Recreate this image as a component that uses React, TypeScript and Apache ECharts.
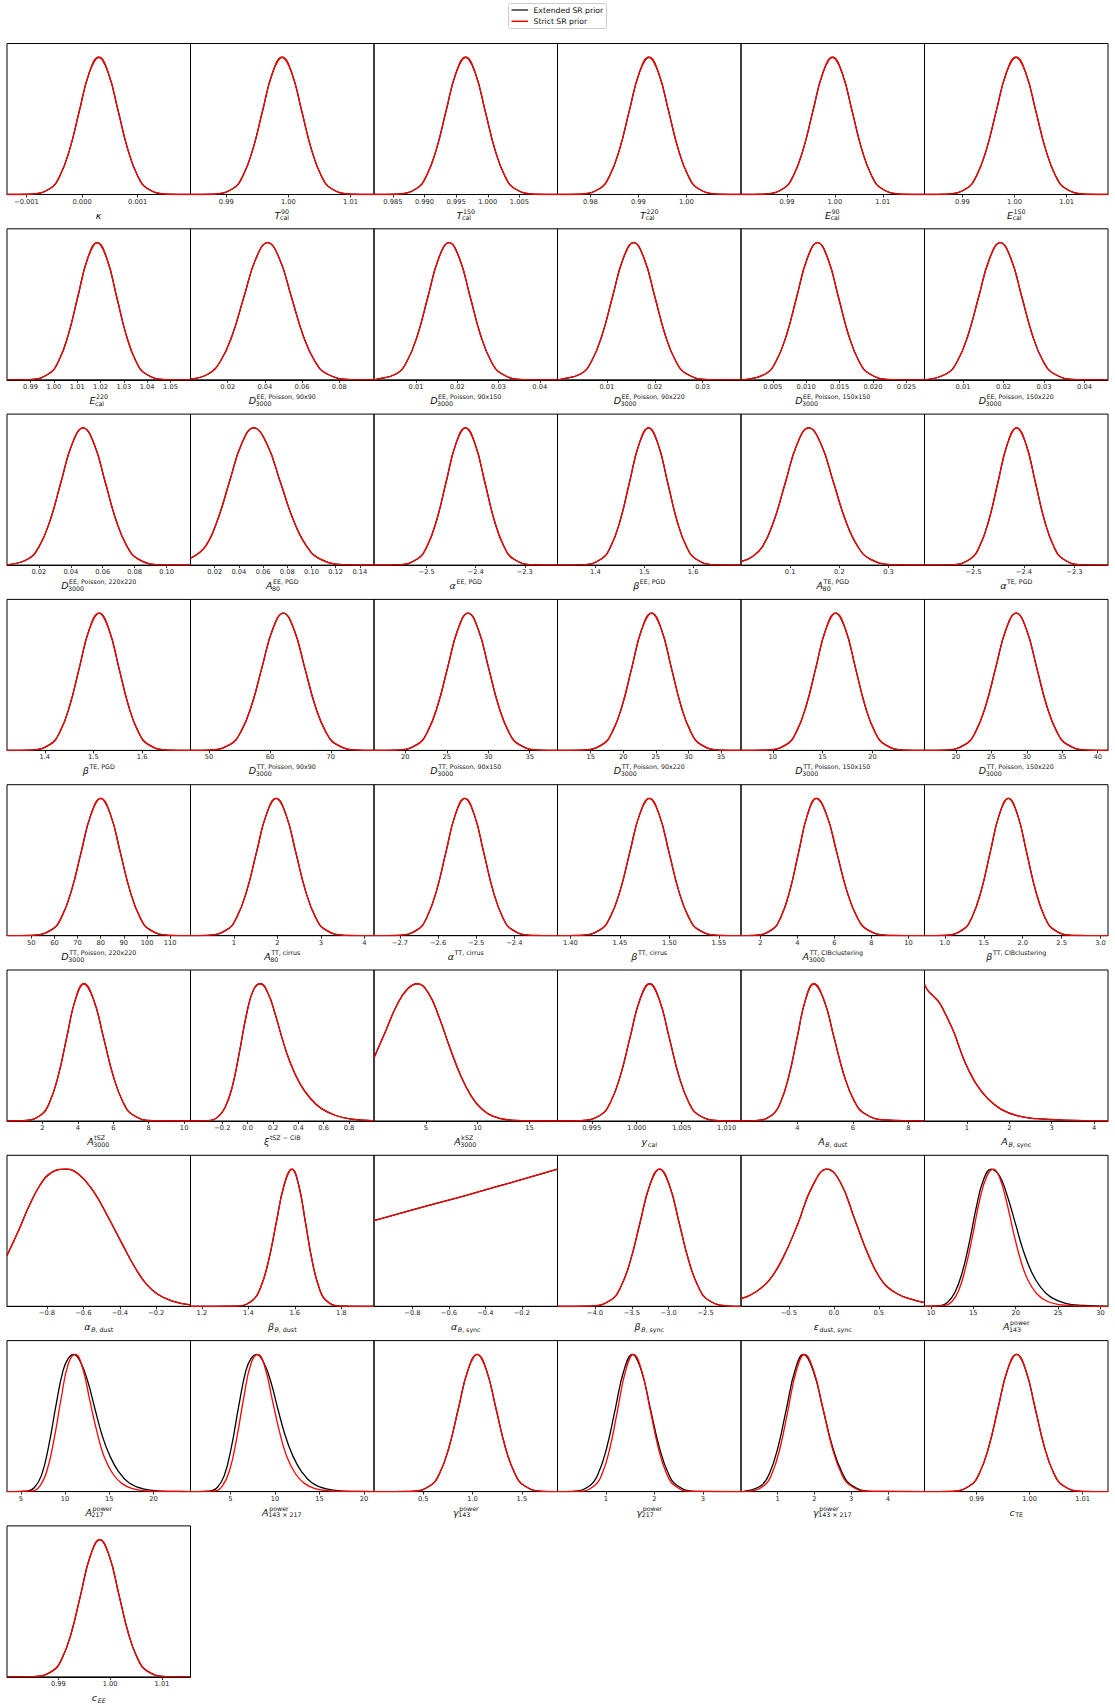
import React, { useEffect, useRef } from "react";
import * as echarts from "echarts";

const FIG_W = 1115;
const FIG_H = 1704;

// ---------- curve values (density normalised to the peak) ----------
// symmetric bell read at -3.5s,-2.5s,-2s,-1.5s,-1s,-0.5s,0,...,+3.5s
const BELL = [0.002, 0.044, 0.135, 0.325, 0.607, 0.882, 1, 0.882, 0.607, 0.325, 0.135, 0.044, 0.002];

const kappaX = [-0.000925, -0.000575, -0.0004, -0.000225, -0.00005, 0.000125, 0.0003, 0.000475, 0.00065, 0.000825, 0.001, 0.001175, 0.001525];
const t90X = [0.98794, 0.9911, 0.99268, 0.99426, 0.99584, 0.99742, 0.999, 1.00058, 1.00216, 1.00374, 1.00532, 1.0069, 1.01006];
const t150X = [0.98565, 0.98875, 0.9903, 0.99185, 0.9934, 0.99495, 0.9965, 0.99805, 0.9996, 1.00115, 1.0027, 1.00425, 1.00735];
const t220X = [0.97785, 0.98195, 0.984, 0.98605, 0.9881, 0.99015, 0.9922, 0.99425, 0.9963, 0.99835, 1.0004, 1.00245, 1.00655];
const e90X = [0.98515, 0.98925, 0.9913, 0.99335, 0.9954, 0.99745, 0.9995, 1.00155, 1.0036, 1.00565, 1.0077, 1.00975, 1.01385];
const e150X = [0.987, 0.9908, 0.9927, 0.9946, 0.9965, 0.9984, 1.0003, 1.0022, 1.0041, 1.006, 1.0079, 1.0098, 1.0136];
const e220X = [0.98955, 0.99785, 1.002, 1.00615, 1.0103, 1.01445, 1.0186, 1.02275, 1.0269, 1.03105, 1.0352, 1.03935, 1.04765];
const dEE90x90X = [0, 0.00975, 0.0161, 0.02245, 0.0288, 0.03515, 0.0415, 0.04785, 0.0542, 0.06055, 0.0669, 0.07325, 0.08595];
const dEE90x90Y = [0.005, 0.044, 0.135, 0.325, 0.607, 0.882, 1, 0.882, 0.607, 0.325, 0.135, 0.044, 0.002];
const dEE90x150X = [0.00015, 0.00525, 0.0078, 0.01035, 0.0129, 0.01545, 0.018, 0.02055, 0.0231, 0.02565, 0.0282, 0.03075, 0.03585];
const dEE90x220X = [0.0002, 0.0046, 0.0068, 0.009, 0.0112, 0.0134, 0.0156, 0.0178, 0.02, 0.0222, 0.0244, 0.0266, 0.031];
const dEE150x150X = [0.00085, 0.00395, 0.0055, 0.00705, 0.0086, 0.01015, 0.0117, 0.01325, 0.0148, 0.01635, 0.0179, 0.01945, 0.02255];
const dEE150x220X = [0.00065, 0.00595, 0.0086, 0.01125, 0.0139, 0.01655, 0.0192, 0.02185, 0.0245, 0.02715, 0.0298, 0.03245, 0.03775];
const dEE220x220X = [0, 0.0132, 0.0201, 0.027, 0.0339, 0.0408, 0.0477, 0.0546, 0.0615, 0.0684, 0.0753, 0.0822, 0.096];
const aEE80X = [0, 0.0122, 0.0222, 0.0322, 0.0422, 0.0522, 0.0632, 0.0742, 0.0852, 0.0962, 0.1072, 0.1292];
const aEE80Y = [0.05, 0.135, 0.325, 0.607, 0.882, 1, 0.882, 0.607, 0.325, 0.135, 0.044, 0.002];
const alphaEEX = [-2.55855, -2.51925, -2.4996, -2.47995, -2.4603, -2.44065, -2.421, -2.40135, -2.3817, -2.36205, -2.3424, -2.32275, -2.28345];
const betaEEX = [1.37335, 1.41205, 1.4314, 1.45075, 1.4701, 1.48945, 1.5088, 1.52815, 1.5475, 1.56685, 1.5862, 1.60555, 1.64425];
const aTE80X = [0, 0.0202, 0.0437, 0.0672, 0.0907, 0.1142, 0.1377, 0.1627, 0.1877, 0.2127, 0.2377, 0.2627, 0.3127];
const aTE80Y = [0.025, 0.055, 0.135, 0.325, 0.607, 0.882, 1, 0.882, 0.607, 0.325, 0.135, 0.044, 0.002];
const alphaTEX = [-2.5433, -2.5065, -2.4881, -2.4697, -2.4513, -2.4329, -2.4145, -2.3961, -2.3777, -2.3593, -2.3409, -2.3225, -2.2857];
const betaTEX = [1.37065, 1.41095, 1.4311, 1.45125, 1.4714, 1.49155, 1.5117, 1.53185, 1.552, 1.57215, 1.5923, 1.61245, 1.65275];
const dTT90x90X = [49.985, 53.475, 55.22, 56.965, 58.71, 60.455, 62.2, 63.945, 65.69, 67.435, 69.18, 70.925, 74.415];
const dTT90x150X = [18.995, 21.445, 22.67, 23.895, 25.12, 26.345, 27.57, 28.795, 30.02, 31.245, 32.47, 33.695, 36.145];
const dTT90x220X = [13.805, 16.815, 18.32, 19.825, 21.33, 22.835, 24.34, 25.845, 27.35, 28.855, 30.36, 31.865, 34.875];
const dTT150x150X = [9.415, 11.385, 12.37, 13.355, 14.34, 15.325, 16.31, 17.295, 18.28, 19.265, 20.25, 21.235, 23.205];
const dTT150x220X = [18.465, 21.335, 22.77, 24.205, 25.64, 27.075, 28.51, 29.945, 31.38, 32.815, 34.25, 35.685, 38.555];
const dTT220x220X = [50.39, 58.85, 63.08, 67.31, 71.54, 75.77, 80, 84.23, 88.46, 92.69, 96.92, 101.15, 109.61];
const aCirrusX = [0.388, 0.84, 1.066, 1.292, 1.518, 1.744, 1.97, 2.196, 2.422, 2.648, 2.874, 3.1, 3.552];
const alphaCirrusX = [-2.7036, -2.654, -2.6292, -2.6044, -2.5796, -2.5548, -2.53, -2.5052, -2.4804, -2.4556, -2.4308, -2.406, -2.3564];
const betaCirrusX = [1.4105, 1.4303, 1.4402, 1.4501, 1.46, 1.4699, 1.4798, 1.4897, 1.4996, 1.5095, 1.5194, 1.5293, 1.5491];
const aCIBX = [1.67, 2.63, 3.11, 3.59, 4.07, 4.55, 5.03, 5.58, 6.13, 6.68, 7.23, 7.78, 8.88];
const betaCIBX = [0.9975, 1.2315, 1.3485, 1.4655, 1.5825, 1.6995, 1.8165, 1.9335, 2.0505, 2.1675, 2.2845, 2.4015, 2.6355];
const aTSZX = [0.945, 1.915, 2.4, 2.885, 3.37, 3.855, 4.34, 4.895, 5.45, 6.005, 6.56, 7.115, 8.225];
const xiX = [-0.375, -0.29, -0.234, -0.177, -0.121, -0.065, -0.008, 0.048, 0.104, 0.161, 0.217, 0.273, 0.33, 0.414, 0.499, 0.583, 0.696, 0.808, 0.977];
const xiY = [0, 0.005, 0.03, 0.1, 0.25, 0.5, 0.78, 0.96, 1.0, 0.93, 0.78, 0.6, 0.44, 0.27, 0.16, 0.09, 0.04, 0.015, 0.003];
const aKSZX = [0, 1.152, 2.18, 3.21, 4.18, 5.27, 6.31, 7.34, 8.37, 9.4, 10.43, 11.46, 12.83, 14.55, 17.71];
const aKSZY = [0.46, 0.66, 0.84, 0.96, 1.0, 0.93, 0.75, 0.53, 0.33, 0.18, 0.085, 0.035, 0.009, 0.002, 0];
const ycalX = [0.9938, 0.99598, 0.99707, 0.99816, 0.99925, 1.00034, 1.00143, 1.00252, 1.00361, 1.0047, 1.00579, 1.00688, 1.00906];
const aBdustX = [2.49, 3.09, 3.39, 3.69, 3.99, 4.29, 4.59, 4.955, 5.32, 5.685, 6.05, 6.415, 7.145];
const aBdustY = [0.002, 0.044, 0.135, 0.325, 0.607, 0.882, 1, 0.882, 0.607, 0.33, 0.145, 0.055, 0.008];
const aBsyncX = [0, 0.082, 0.208, 0.334, 0.461, 0.587, 0.714, 0.84, 0.966, 1.093, 1.219, 1.472, 1.809, 2.23, 2.651, 3.241, 4.328];
const aBsyncY = [0.995, 0.95, 0.91, 0.87, 0.8, 0.72, 0.63, 0.52, 0.42, 0.34, 0.27, 0.17, 0.085, 0.035, 0.017, 0.007, 0.002];
const alphaBdustX = [-1.019, -0.956, -0.898, -0.839, -0.78, -0.696, -0.624, -0.546, -0.468, -0.389, -0.311, -0.253, -0.194, -0.116, -0.012];
const alphaBdustY = [0.37, 0.55, 0.73, 0.88, 0.97, 1.0, 0.96, 0.84, 0.66, 0.46, 0.27, 0.16, 0.09, 0.04, 0.01];
const betaBdustX = [1.3507, 1.41845, 1.4523, 1.48615, 1.52, 1.55385, 1.5877, 1.61695, 1.6462, 1.67545, 1.7047, 1.73395, 1.79245];
const alphaBsyncX = [-1.011, -0.75, -0.5, -0.25, -0.0043];
const alphaBsyncY = [0.625, 0.72, 0.81, 0.905, 1.0];
const betaBsyncX = [-4.055, -3.789, -3.656, -3.523, -3.39, -3.257, -3.124, -2.991, -2.858, -2.725, -2.592, -2.459, -2.193];
const epsX = [-1.032, -0.877, -0.718, -0.56, -0.401, -0.242, -0.0754, 0.0754, 0.234, 0.393, 0.552, 0.71, 0.869, 1.008];
const epsY = [0.054, 0.1, 0.19, 0.36, 0.6, 0.87, 1.0, 0.9, 0.63, 0.36, 0.17, 0.09, 0.05, 0.027];
const a143StrictX = [11.56, 12.4, 13.24, 14.08, 14.93, 15.77, 16.61, 17.37, 18.09, 18.93, 19.77, 20.61, 21.45, 22.51, 23.77, 25.45, 27.98];
const a143StrictY = [0.005, 0.03, 0.11, 0.28, 0.52, 0.78, 0.95, 1.0, 0.94, 0.76, 0.53, 0.33, 0.19, 0.09, 0.035, 0.01, 0.002];
const a143ExtX = [11.14, 11.98, 12.82, 13.66, 14.51, 15.35, 16.19, 17.12, 18.09, 18.93, 19.98, 20.82, 21.87, 22.93, 24.19, 25.88, 27.98, 30.09];
const a143ExtY = [0.005, 0.03, 0.1, 0.24, 0.46, 0.72, 0.92, 1.0, 0.95, 0.82, 0.6, 0.42, 0.25, 0.14, 0.065, 0.022, 0.006, 0.001];
const a217StrictX = [6.33, 7.14, 7.94, 8.75, 9.56, 10.36, 11.17, 11.98, 12.78, 13.59, 14.39, 15.4, 16.41, 17.62, 19.23, 21.25];
const a217StrictY = [0.005, 0.04, 0.15, 0.38, 0.68, 0.93, 1.0, 0.9, 0.67, 0.44, 0.26, 0.13, 0.06, 0.022, 0.006, 0.001];
const a217ExtX = [5.73, 6.53, 7.34, 8.14, 8.95, 9.76, 10.36, 10.97, 11.77, 12.58, 13.39, 14.19, 15.0, 16.01, 17.22, 18.83, 20.85, 22.86];
const a217ExtY = [0.004, 0.03, 0.12, 0.33, 0.62, 0.88, 0.97, 1.0, 0.94, 0.8, 0.6, 0.41, 0.27, 0.15, 0.065, 0.02, 0.004, 0.001];
const a143x217StrictX = [3.28, 4.08, 4.88, 5.68, 6.48, 7.29, 8.09, 8.89, 9.69, 10.49, 11.3, 12.3, 13.3, 14.5, 16.11, 18.11];
const a143x217StrictY = [0.005, 0.04, 0.15, 0.38, 0.68, 0.93, 1.0, 0.9, 0.67, 0.44, 0.26, 0.13, 0.06, 0.022, 0.006, 0.001];
const a143x217ExtX = [2.71, 3.52, 4.32, 5.12, 5.92, 6.72, 7.32, 7.93, 8.73, 9.53, 10.33, 11.14, 11.94, 12.94, 14.14, 15.75, 17.75, 19.76];
const a143x217ExtY = [0.004, 0.03, 0.12, 0.33, 0.62, 0.88, 0.97, 1.0, 0.94, 0.8, 0.6, 0.41, 0.27, 0.15, 0.065, 0.02, 0.004, 0.001];
const g143X = [0.382, 0.572, 0.667, 0.762, 0.857, 0.952, 1.047, 1.142, 1.237, 1.332, 1.427, 1.522, 1.712];
const g217StrictX = [0.448, 0.768, 0.928, 1.088, 1.248, 1.408, 1.568, 1.738, 1.908, 2.078, 2.248, 2.418, 2.758];
const g217ExtX = [0.321, 0.671, 0.846, 1.021, 1.196, 1.371, 1.546, 1.731, 1.916, 2.101, 2.286, 2.471, 2.841];
const g143x217StrictX = [0.19, 0.63, 0.85, 1.07, 1.29, 1.51, 1.73, 1.98, 2.23, 2.48, 2.73, 2.98, 3.48];
const g143x217ExtX = [0.09, 0.55, 0.78, 1.01, 1.24, 1.47, 1.7, 1.965, 2.23, 2.495, 2.76, 3.025, 3.555];
const cTEX = [0.98529, 0.98879, 0.99054, 0.99229, 0.99404, 0.99579, 0.99754, 0.99929, 1.00104, 1.00279, 1.00454, 1.00629, 1.00979];
const cEEX = [0.98526, 0.9889, 0.99072, 0.99254, 0.99436, 0.99618, 0.998, 0.99982, 1.00164, 1.00346, 1.00528, 1.0071, 1.01074];

// ---------- per-panel lists ----------
// "Strict SR prior" curves (red)
const STRICT: number[][][] = [
  [kappaX, BELL], [t90X, BELL], [t150X, BELL], [t220X, BELL], [e90X, BELL], [e150X, BELL],
  [e220X, BELL], [dEE90x90X, dEE90x90Y], [dEE90x150X, BELL], [dEE90x220X, BELL], [dEE150x150X, BELL], [dEE150x220X, BELL],
  [dEE220x220X, BELL], [aEE80X, aEE80Y], [alphaEEX, BELL], [betaEEX, BELL], [aTE80X, aTE80Y], [alphaTEX, BELL],
  [betaTEX, BELL], [dTT90x90X, BELL], [dTT90x150X, BELL], [dTT90x220X, BELL], [dTT150x150X, BELL], [dTT150x220X, BELL],
  [dTT220x220X, BELL], [aCirrusX, BELL], [alphaCirrusX, BELL], [betaCirrusX, BELL], [aCIBX, BELL], [betaCIBX, BELL],
  [aTSZX, BELL], [xiX, xiY], [aKSZX, aKSZY], [ycalX, BELL], [aBdustX, aBdustY], [aBsyncX, aBsyncY],
  [alphaBdustX, alphaBdustY], [betaBdustX, BELL], [alphaBsyncX, alphaBsyncY], [betaBsyncX, BELL], [epsX, epsY], [a143StrictX, a143StrictY],
  [a217StrictX, a217StrictY], [a143x217StrictX, a143x217StrictY], [g143X, BELL], [g217StrictX, BELL], [g143x217StrictX, BELL], [cTEX, BELL],
  [cEEX, BELL],
];
// "Extended SR prior" curves (black): identical except where they visibly differ
const EXTENDED: number[][][] = STRICT.map((c) => c);
EXTENDED[41] = [a143ExtX, a143ExtY];
EXTENDED[42] = [a217ExtX, a217ExtY];
EXTENDED[43] = [a143x217ExtX, a143x217ExtY];
EXTENDED[45] = [g217ExtX, BELL];
EXTENDED[46] = [g143x217ExtX, BELL];

const RANGES: number[][] = [
  [-0.00135, 0.00195], [0.98425, 1.01379], [0.98201, 1.01103], [0.97316, 1.01138], [0.98038, 1.01872], [0.98274, 1.01794],
  [0.9799, 1.0586], [0, 0.0987], [-0.0002, 0.0443], [-0.0003, 0.038], [0.00025, 0.0277], [0.0005, 0.0458],
  [0, 0.115], [0, 0.1517], [-2.6076, -2.2332], [1.3226, 1.6978], [0, 0.3732], [-2.597, -2.2336],
  [1.3223, 1.6996], [46.95, 77.1], [16.22, 38.36], [9.9, 38.07], [6.81, 25.23], [15.57, 41.46],
  [39.54, 118.77], [0, 4.221], [-2.768, -2.287], [1.387, 1.5723], [0.959, 10.87], [0.7385, 3.096],
  [0, 10.36], [-0.4507, 0.997], [0, 17.71], [0.99119, 1.01159], [1.968, 8.578], [0, 4.328],
  [-1.019, -0.012], [1.151, 1.941], [-1.011, -0.0043], [-4.508, -2.02], [-1.032, 1.008], [9.24, 30.89],
  [3.43, 24.19], [0.509, 21.12], [0, 1.862], [0, 3.79], [0, 5.0], [0.98017, 1.01478],
  [0.9801, 1.0155],
];

const TICKS: number[][] = [
  [-0.001, 0, 0.001], [0.99, 1.0, 1.01], [0.985, 0.99, 0.995, 1.0, 1.005], [0.98, 0.99, 1.0], [0.99, 1.0, 1.01], [0.99, 1.0, 1.01],
  [0.99, 1.0, 1.01, 1.02, 1.03, 1.04, 1.05], [0.02, 0.04, 0.06, 0.08], [0.01, 0.02, 0.03, 0.04], [0.01, 0.02, 0.03], [0.005, 0.01, 0.015, 0.02, 0.025], [0.01, 0.02, 0.03, 0.04],
  [0.02, 0.04, 0.06, 0.08, 0.1], [0.02, 0.04, 0.06, 0.08, 0.1, 0.12, 0.14], [-2.5, -2.4, -2.3], [1.4, 1.5, 1.6], [0.1, 0.2, 0.3], [-2.5, -2.4, -2.3],
  [1.4, 1.5, 1.6], [50, 60, 70], [20, 25, 30, 35], [15, 20, 25, 30, 35], [10, 15, 20], [20, 25, 30, 35, 40],
  [50, 60, 70, 80, 90, 100, 110], [1, 2, 3, 4], [-2.7, -2.6, -2.5, -2.4], [1.4, 1.45, 1.5, 1.55], [2, 4, 6, 8, 10], [1.0, 1.5, 2.0, 2.5, 3.0],
  [2, 4, 6, 8, 10], [-0.2, 0, 0.2, 0.4, 0.6, 0.8], [5, 10, 15], [0.995, 1.0, 1.005, 1.01], [4, 6, 8], [1, 2, 3, 4],
  [-0.8, -0.6, -0.4, -0.2], [1.2, 1.4, 1.6, 1.8], [-0.8, -0.6, -0.4, -0.2], [-4.0, -3.5, -3.0, -2.5], [-0.5, 0, 0.5], [10, 15, 20, 25, 30],
  [5, 10, 15, 20], [5, 10, 15, 20], [0.5, 1.0, 1.5], [1, 2, 3], [1, 2, 3, 4], [0.99, 1.0, 1.01],
  [0.99, 1.0, 1.01],
];

const DECIMALS = [
  3, 2, 3, 2, 2, 2,
  2, 2, 2, 2, 3, 2,
  2, 2, 1, 1, 1, 1,
  1, 0, 0, 0, 0, 0,
  0, 0, 1, 2, 0, 1,
  0, 1, 0, 3, 0, 0,
  1, 1, 1, 1, 1, 0,
  0, 0, 1, 0, 0, 2,
  2,
];

// axis titles: m = main symbol (italic), sup, sub ("*x*" marks italic part)
type Lab = { m: string; sup?: string; sub?: string };
const LABELS: Lab[] = [
  { m: "κ" }, { m: "T", sup: "90", sub: "cal" }, { m: "T", sup: "150", sub: "cal" }, { m: "T", sup: "220", sub: "cal" }, { m: "E", sup: "90", sub: "cal" }, { m: "E", sup: "150", sub: "cal" },
  { m: "E", sup: "220", sub: "cal" }, { m: "D", sup: "EE, Poisson, 90x90", sub: "3000" }, { m: "D", sup: "EE, Poisson, 90x150", sub: "3000" }, { m: "D", sup: "EE, Poisson, 90x220", sub: "3000" }, { m: "D", sup: "EE, Poisson, 150x150", sub: "3000" }, { m: "D", sup: "EE, Poisson, 150x220", sub: "3000" },
  { m: "D", sup: "EE, Poisson, 220x220", sub: "3000" }, { m: "A", sup: "EE, PGD", sub: "80" }, { m: "α", sup: "EE, PGD" }, { m: "β", sup: "EE, PGD" }, { m: "A", sup: "TE, PGD", sub: "80" }, { m: "α", sup: "TE, PGD" },
  { m: "β", sup: "TE, PGD" }, { m: "D", sup: "TT, Poisson, 90x90", sub: "3000" }, { m: "D", sup: "TT, Poisson, 90x150", sub: "3000" }, { m: "D", sup: "TT, Poisson, 90x220", sub: "3000" }, { m: "D", sup: "TT, Poisson, 150x150", sub: "3000" }, { m: "D", sup: "TT, Poisson, 150x220", sub: "3000" },
  { m: "D", sup: "TT, Poisson, 220x220", sub: "3000" }, { m: "A", sup: "TT, cirrus", sub: "80" }, { m: "α", sup: "TT, cirrus" }, { m: "β", sup: "TT, cirrus" }, { m: "A", sup: "TT, CIBclustering", sub: "3000" }, { m: "β", sup: "TT, CIBclustering" },
  { m: "A", sup: "tSZ", sub: "3000" }, { m: "ξ", sup: "tSZ − CIB" }, { m: "A", sup: "kSZ", sub: "3000" }, { m: "y", sub: "cal" }, { m: "A", sub: "*B*, dust" }, { m: "A", sub: "*B*, sync" },
  { m: "α", sub: "*B*, dust" }, { m: "β", sub: "*B*, dust" }, { m: "α", sub: "*B*, sync" }, { m: "β", sub: "*B*, sync" }, { m: "ε", sub: "dust, sync" }, { m: "A", sup: "power", sub: "143" },
  { m: "A", sup: "power", sub: "217" }, { m: "A", sup: "power", sub: "143 × 217" }, { m: "γ", sup: "power", sub: "143" }, { m: "γ", sup: "power", sub: "217" }, { m: "γ", sup: "power", sub: "143 × 217" }, { m: "c", sub: "TE" },
  { m: "c", sub: "*EE*" },
];

const LEGEND_NAMES = ["Extended SR prior", "Strict SR prior"];
const LEGEND_COLORS = ["#000000", "#ff0000"];

// ---------- layout ----------
const COLS = 6;
const P_LEFT = 7;
const P_W = 183.5;
const P_TOP = 43.5;
const P_PITCH = 185.3;
const P_H = 151;
const FONT = '"DejaVu Sans", "Liberation Sans", sans-serif';
const MAIN_SIZE = 9.5;
const SMALL_SIZE = 6.3;
const TICK_SIZE = 6.7;

function fmtTick(v: number, dec: number): string {
  const s = v.toFixed(dec);
  return s.charAt(0) === "-" ? "\u2212" + s.slice(1) : s;
}

function buildCurve(xs: number[], ys: number[], lo: number, hi: number): number[][] {
  const pts: number[][] = [];
  if (xs[0] > lo + 1e-12) pts.push([lo, 0]);
  for (let k = 0; k < xs.length; k++) pts.push([xs[k], ys[k]]);
  if (xs[xs.length - 1] < hi - 1e-12) pts.push([hi, 0]);
  return pts;
}

export default function App() {
  const ref = useRef<HTMLDivElement>(null);

  useEffect(() => {
    if (!ref.current) return;
    const chart = echarts.init(ref.current, null, { renderer: "svg", width: FIG_W, height: FIG_H });

    const canvas = document.createElement("canvas");
    const ctx = canvas.getContext("2d") as CanvasRenderingContext2D;
    const tw = (t: string, size: number, italic: boolean) => {
      ctx.font = `${italic ? "italic " : ""}${size}px "DejaVu Sans"`;
      return ctx.measureText(t).width;
    };
    const txt = (t: string, x: number, y: number, size: number, italic: boolean) => ({
      type: "text",
      x,
      y,
      silent: true,
      z: 10,
      style: {
        text: t,
        fontSize: size,
        fontFamily: FONT,
        fontStyle: italic ? "italic" : "normal",
        fill: "#111",
        align: "left",
        verticalAlign: "middle",
      },
    });

    const grids: any[] = [];
    const xAxes: any[] = [];
    const yAxes: any[] = [];
    const series: any[] = [];
    const graphics: any[] = [];

    for (let i = 0; i < STRICT.length; i++) {
      const row = Math.floor(i / COLS);
      const col = i % COLS;
      const left = P_LEFT + col * P_W;
      const top = P_TOP + row * P_PITCH;
      const [lo, hi] = RANGES[i];
      grids.push({
        left,
        top,
        width: P_W,
        height: P_H,
        show: true,
        borderColor: "#000",
        borderWidth: 1,
        backgroundColor: "transparent",
      });
      const dec = DECIMALS[i];
      xAxes.push({
        gridIndex: i,
        type: "value",
        min: lo,
        max: hi,
        axisLine: { show: true, onZero: false, lineStyle: { color: "#000", width: 1 } },
        axisTick: { show: true, customValues: TICKS[i], length: 3, lineStyle: { color: "#000", width: 0.8 } },
        axisLabel: {
          show: true,
          customValues: TICKS[i],
          formatter: (v: number) => fmtTick(v, dec),
          fontSize: TICK_SIZE,
          fontFamily: FONT,
          color: "#222",
          margin: 3.5,
        },
        splitLine: { show: false },
      });
      yAxes.push({ gridIndex: i, type: "value", min: 0, max: 1.1, show: false, splitLine: { show: false } });

      const ext = EXTENDED[i];
      const str = STRICT[i];
      series.push({
        name: LEGEND_NAMES[0],
        type: "line",
        xAxisIndex: i,
        yAxisIndex: i,
        data: buildCurve(ext[0], ext[1], lo, hi),
        showSymbol: false,
        symbol: "none",
        smooth: 0.45,
        silent: true,
        z: 2,
        lineStyle: { color: LEGEND_COLORS[0], width: 1.3 },
        itemStyle: { color: LEGEND_COLORS[0] },
      });
      series.push({
        name: LEGEND_NAMES[1],
        type: "line",
        xAxisIndex: i,
        yAxisIndex: i,
        data: buildCurve(str[0], str[1], lo, hi),
        showSymbol: false,
        symbol: "none",
        smooth: 0.45,
        silent: true,
        z: 3,
        lineStyle: { color: LEGEND_COLORS[1], width: 1.3 },
        itemStyle: { color: LEGEND_COLORS[1] },
      });

      // axis title
      const lab = LABELS[i];
      const cx = left + P_W / 2;
      const ay = top + P_H;
      const wm = tw(lab.m, MAIN_SIZE, true);
      const subSegs: { t: string; it: boolean }[] = [];
      if (lab.sub) {
        lab.sub.split("*").forEach((t, k) => {
          if (t.length) subSegs.push({ t, it: k % 2 === 1 });
        });
      }
      const wsub = subSegs.reduce((a, s) => a + tw(s.t, SMALL_SIZE, s.it), 0);
      const wsup = lab.sup ? tw(lab.sup, SMALL_SIZE, false) : 0;
      const total = wm + 0.6 + Math.max(wsub, wsup);
      const x0 = cx - total / 2;
      graphics.push(txt(lab.m, x0, ay + 20.5, MAIN_SIZE, true));
      const xs = x0 + wm + 0.6;
      if (lab.sup) graphics.push(txt(lab.sup, xs, ay + 16.5, SMALL_SIZE, false));
      let xx = xs - (lab.sup ? 1 : 0);
      subSegs.forEach((s) => {
        graphics.push(txt(s.t, xx, ay + 23.3, SMALL_SIZE, s.it));
        xx += tw(s.t, SMALL_SIZE, s.it);
      });
    }

    // legend box
    const LX = 508.5;
    const LY = 3.5;
    graphics.push({
      type: "rect",
      silent: true,
      z: 20,
      shape: { x: LX, y: LY, width: 98, height: 25, r: 2 },
      style: { fill: "#fff", stroke: "#cccccc", lineWidth: 1 },
    });
    LEGEND_NAMES.forEach((name, k) => {
      const yy = LY + 6.5 + k * 11.3;
      graphics.push({
        type: "line",
        silent: true,
        z: 21,
        shape: { x1: LX + 3, y1: yy, x2: LX + 19.5, y2: yy },
        style: { stroke: k === 0 ? "#333" : LEGEND_COLORS[1], lineWidth: 1.5 },
      });
      graphics.push({
        type: "text",
        silent: true,
        z: 21,
        x: LX + 25,
        y: yy,
        style: {
          text: name,
          fontSize: 7.7,
          fontFamily: FONT,
          fill: "#111",
          align: "left",
          verticalAlign: "middle",
        },
      });
    });

    chart.setOption({
      animation: false,
      backgroundColor: "#ffffff",
      grid: grids,
      xAxis: xAxes,
      yAxis: yAxes,
      series,
      graphic: graphics,
    });

    return () => {
      chart.dispose();
    };
  }, []);

  return (
    <div
      ref={ref}
      style={{ position: "absolute", left: 0, top: 0, width: FIG_W, height: FIG_H, background: "#fff" }}
    />
  );
}
